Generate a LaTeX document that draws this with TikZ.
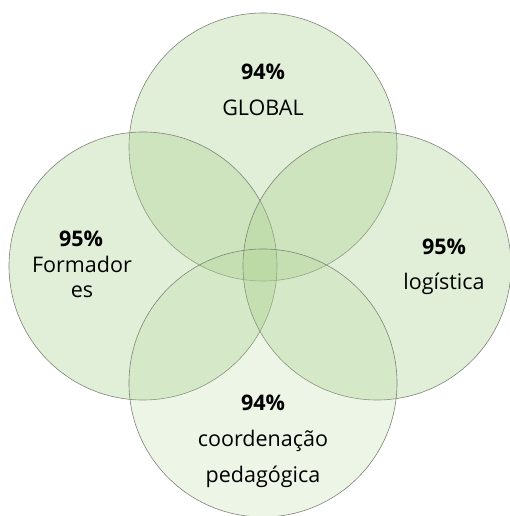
\documentclass[tikz,border=0pt]{standalone}
\usepackage{fontspec}
\setmainfont{Open Sans}
\definecolor{vennfill}{RGB}{169,208,142}
\definecolor{vennline}{RGB}{125,132,120}
\begin{document}
\begin{tikzpicture}[x=1pt,y=1pt]
  \useasboundingbox (0,0) rectangle (509,516);

  \begin{scope}[every node/.style={circle, draw=vennline, line width=.6pt, fill=vennfill,
      fill opacity=.35, minimum size=268pt, inner sep=0pt}]
    \node (global)     at (263,369) {};
    \node (formadores) at (143,250) {};
    \node (logistica)  at (377,250) {};
    \node[fill opacity=.22] (coordenacao) at (263,133) {};
  \end{scope}

  \begin{scope}[every node/.style={anchor=base, inner sep=0pt, font=\fontsize{21.5}{26}\selectfont}]
    \node (globalpct)   at (263,436) {\textbf{94\%}};
    \node (globalname)  at (263,400) {GLOBAL};
    \node (formpct)     at (81,269)  {\textbf{95\%}};
    \node (formname)    at (82,243)  {Formador};
    \node (formname2)   at (82,218)  {es};
    \node (logpct)      at (444,261) {\textbf{95\%}};
    \node (logname)     at (444,226) {logística};
    \node (coordpct)    at (263,105) {\textbf{94\%}};
    \node (coordname)   at (263,69)  {coordenação};
    \node (coordname2)  at (263,33)  {pedagógica};
  \end{scope}

\end{tikzpicture}
\end{document}
